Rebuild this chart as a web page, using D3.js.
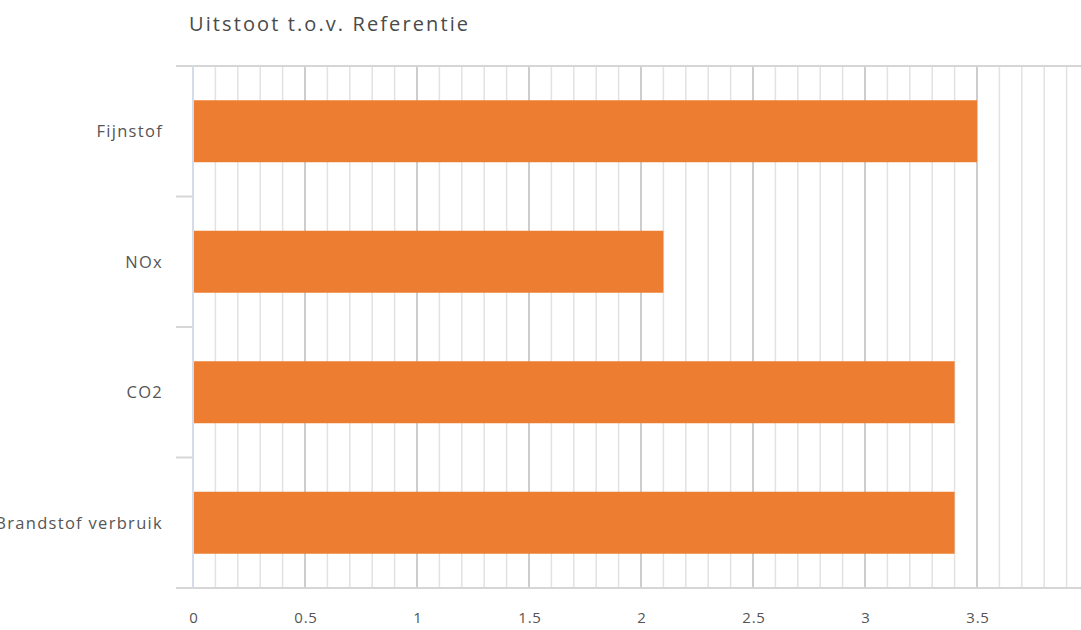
<!DOCTYPE html>
<html>
<head>
<meta charset="utf-8">
<script src="https://cdn.jsdelivr.net/npm/d3@7"></script>
<style>
  html, body { margin: 0; padding: 0; background: #fff; overflow: hidden; }
  svg { display: block; }
  text { font-family: "Open Sans", Lato, sans-serif; }
</style>
</head>
<body>
<svg id="chart" width="1081" height="630"></svg>
<script>
// Emission relative to the reference vehicle
const categories = ["Fijnstof", "NOx", "CO2", "Brandstof verbruik"];
const values = [3.5, 2.1, 3.4, 3.4];
const majorTicks = [0, 0.5, 1, 1.5, 2, 2.5, 3, 3.5, 4];
const tickLabels = ["0", "0.5", "1", "1.5", "2", "2.5", "3", "3.5", "4"];
const title = "Uitstoot t.o.v. Referentie";

const svg = d3.select("#chart");
const W = 1081, H = 630;
const plot = { left: 193, right: 1089, top: 66, bottom: 588 };

const x = d3.scaleLinear().domain([0, 4]).range([plot.left, plot.right]);
const y = d3.scaleBand().domain(categories).range([plot.top, plot.bottom]).paddingInner(0).paddingOuter(0);
const barFrac = 0.475;

// Title
svg.append("text")
  .attr("x", 189).attr("y", 31)
  .attr("font-size", 20).attr("letter-spacing", 2.1).attr("fill", "#4a4a4a")
  .text(title);

// Minor gridlines every 0.1
const minor = d3.range(1, 41).map(i => i / 10).filter(v => Math.round(v * 10) % 5 !== 0);
svg.append("g").selectAll("line").data(minor).join("line")
  .attr("x1", d => x(d)).attr("x2", d => x(d))
  .attr("y1", plot.top).attr("y2", plot.bottom)
  .attr("stroke", "#e2e2e2").attr("stroke-width", 1.5);

// Major gridlines every 0.5
svg.append("g").selectAll("line").data(majorTicks.filter(d => d > 0)).join("line")
  .attr("x1", d => x(d)).attr("x2", d => x(d))
  .attr("y1", plot.top).attr("y2", plot.bottom)
  .attr("stroke", "#cdcdcd").attr("stroke-width", 2);

// Top border and bottom axis line
svg.append("line")
  .attr("x1", 176).attr("x2", W).attr("y1", plot.top).attr("y2", plot.top)
  .attr("stroke", "#d6d6d6").attr("stroke-width", 2);
svg.append("line")
  .attr("x1", 176).attr("x2", W).attr("y1", plot.bottom).attr("y2", plot.bottom)
  .attr("stroke", "#d6d6d6").attr("stroke-width", 2);

// Category separator ticks on the left
const seps = categories.map(c => y(c)).concat([plot.bottom]);
svg.append("g").selectAll("line").data(seps).join("line")
  .attr("x1", 176).attr("x2", plot.left).attr("y1", d => d).attr("y2", d => d)
  .attr("stroke", "#d6d6d6").attr("stroke-width", 2);

// Vertical axis line
svg.append("line")
  .attr("x1", plot.left).attr("x2", plot.left).attr("y1", plot.top).attr("y2", plot.bottom)
  .attr("stroke", "#d3dce8").attr("stroke-width", 2);

// Bars
svg.append("g").selectAll("rect").data(categories).join("rect")
  .attr("x", x(0) + 1)
  .attr("y", d => y(d) + y.bandwidth() * (1 - barFrac) / 2)
  .attr("width", (d, i) => x(values[i]) - x(0) - 1)
  .attr("height", y.bandwidth() * barFrac)
  .attr("fill", "#ec7d31");

// Category labels
svg.append("g").selectAll("text").data(categories).join("text")
  .attr("x", 163)
  .attr("y", d => y(d) + y.bandwidth() / 2)
  .attr("dy", "0.35em")
  .attr("text-anchor", "end")
  .attr("font-size", 16.5).attr("letter-spacing", 1.3).attr("fill", "#555")
  .text(d => d);

// X tick labels
svg.append("g").selectAll("text").data(majorTicks).join("text")
  .attr("x", d => x(d) + 1)
  .attr("y", 623)
  .attr("text-anchor", "middle")
  .attr("font-size", 15).attr("letter-spacing", 0.8).attr("fill", "#555")
  .text((d, i) => tickLabels[i]);
</script>
</body>
</html>
